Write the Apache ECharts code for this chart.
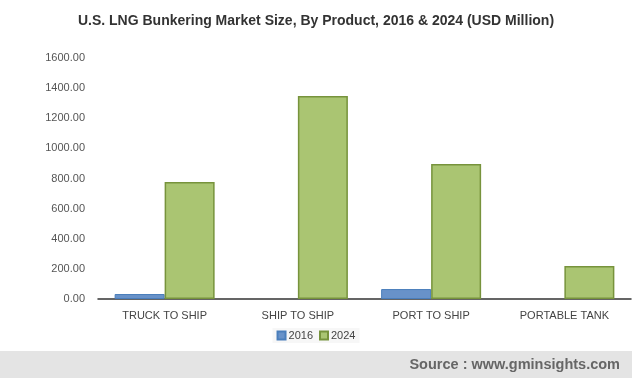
<!DOCTYPE html>
<html>
<head>
<meta charset="utf-8">
<script src="https://cdn.jsdelivr.net/npm/echarts@6/dist/echarts.min.js"></script>
<style>
  html, body { margin: 0; padding: 0; background: #fff; }
  #chart { width: 632px; height: 378px; }
</style>
</head>
<body>
<div id="chart"></div>
<script>
// categories and values
var categories = ['TRUCK TO SHIP', 'SHIP TO SHIP', 'PORT TO SHIP', 'PORTABLE TANK'];
var values2016 = [33, 0, 66, 0];
var values2024 = [777, 1348, 896, 219];
var yTicks = { min: 0, max: 1600, interval: 200 };

// zero bars are not drawn at all in the original
function noZero(arr) {
  return arr.map(function (v) { return v === 0 ? '-' : v; });
}

var chart = echarts.init(document.getElementById('chart'));
chart.setOption({
  animation: false,
  title: {
    text: 'U.S. LNG Bunkering Market Size, By Product, 2016 & 2024 (USD Million)',
    left: 'center',
    top: 9,
    textStyle: {
      fontFamily: 'Liberation Sans, Arial',
      fontSize: 14,
      fontWeight: 'bold',
      color: '#333333'
    }
  },
  legend: {
    data: ['2016', '2024'],
    bottom: 35,
    left: 'center',
    icon: 'rect',
    itemWidth: 8,
    itemHeight: 8,
    itemGap: 6,
    backgroundColor: '#f7f7f7',
    padding: [2, 4],
    textStyle: {
      fontFamily: 'Liberation Sans, Arial',
      fontSize: 11,
      color: '#444444',
      padding: [0, 0, 0, -2]
    }
  },
  grid: {
    left: 98,
    right: 1,
    top: 58,
    bottom: 79
  },
  graphic: [{
    type: 'rect',
    left: 0,
    top: 351,
    shape: { width: 632, height: 27 },
    style: { fill: '#e4e4e4' },
    silent: true
  }, {
    type: 'text',
    right: 12,
    top: 357,
    style: {
      text: 'Source : www.gminsights.com',
      fill: '#666666',
      font: 'bold 14.5px Liberation Sans, Arial'
    },
    silent: true
  }],
  xAxis: {
    type: 'category',
    data: categories,
    axisTick: { show: false },
    axisLine: { lineStyle: { color: '#333333', width: 1.5 } },
    axisLabel: {
      margin: 11,
      fontFamily: 'Liberation Sans, Arial',
      fontSize: 11,
      color: '#444444'
    }
  },
  yAxis: {
    type: 'value',
    min: yTicks.min,
    max: yTicks.max,
    interval: yTicks.interval,
    splitLine: { show: false },
    axisLine: { show: false },
    axisTick: { show: false },
    axisLabel: {
      margin: 13,
      fontFamily: 'Liberation Sans, Arial',
      fontSize: 11,
      color: '#555555',
      formatter: function (v) { return v.toFixed(2); }
    }
  },
  series: [{
    name: '2016',
    type: 'bar',
    data: noZero(values2016),
    barWidth: 50,
    barGap: '0%',
    itemStyle: { color: '#6892c9', borderColor: '#4a7ebb', borderWidth: 1 }
  }, {
    name: '2024',
    type: 'bar',
    data: noZero(values2024),
    barWidth: 50,
    itemStyle: { color: '#aac572', borderColor: '#77933c', borderWidth: 1.5 }
  }]
});
</script>
</body>
</html>
